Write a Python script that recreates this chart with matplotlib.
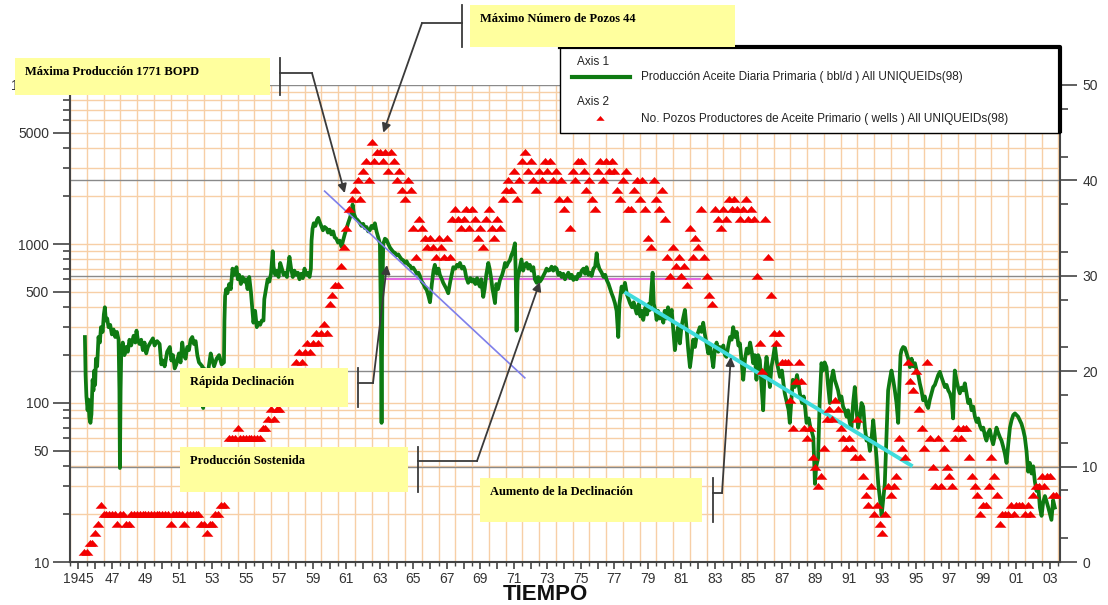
import numpy as np
import matplotlib
matplotlib.use('Agg')
import matplotlib.pyplot as plt
from matplotlib.patches import Rectangle
from matplotlib.lines import Line2D
from matplotlib.ticker import FixedLocator, NullFormatter

# ---- daily primary oil production (bbl/d), axis 1 ----
prod_year = [
    1945.39, 1945.43, 1945.48, 1945.55, 1945.60, 1945.66, 1945.72, 1945.78, 1945.85, 1945.90, 1945.95,
    1946.00, 1946.05, 1946.12, 1946.20, 1946.28, 1946.35, 1946.45, 1946.52, 1946.58, 1946.64, 1946.72, 1946.80, 1946.90,
    1947.00, 1947.10, 1947.20, 1947.30, 1947.40, 1947.45, 1947.48, 1947.52, 1947.56, 1947.65, 1947.75, 1947.85, 1947.95,
    1948.05, 1948.15, 1948.30, 1948.40, 1948.47, 1948.55, 1948.65, 1948.75, 1948.85, 1948.95,
    1949.05, 1949.15, 1949.30, 1949.45, 1949.55, 1949.70, 1949.85, 1949.95,
    1950.05, 1950.15, 1950.30, 1950.46, 1950.55, 1950.65, 1950.75, 1950.85,
    1951.00, 1951.10, 1951.20, 1951.30, 1951.40, 1951.50, 1951.60, 1951.70, 1951.80, 1951.90,
    1952.00, 1952.10, 1952.20, 1952.30, 1952.40, 1952.45, 1952.50, 1952.60, 1952.75, 1952.90,
    1953.00, 1953.10, 1953.25, 1953.40, 1953.55, 1953.69, 1953.72, 1953.76, 1953.82, 1953.90,
    1954.00, 1954.10, 1954.20, 1954.30, 1954.44, 1954.52, 1954.60, 1954.70, 1954.80, 1954.90,
    1955.00, 1955.10, 1955.20, 1955.30, 1955.40, 1955.45, 1955.55, 1955.65, 1955.75, 1955.85, 1955.95,
    1956.05, 1956.10, 1956.20, 1956.30, 1956.40, 1956.50, 1956.60, 1956.65, 1956.75, 1956.85, 1956.95,
    1957.05, 1957.15, 1957.25, 1957.35, 1957.45, 1957.60, 1957.70, 1957.80, 1957.90,
    1958.00, 1958.10, 1958.20, 1958.30, 1958.40, 1958.50, 1958.60, 1958.70, 1958.80, 1958.88, 1958.92, 1958.98,
    1959.05, 1959.15, 1959.25, 1959.32, 1959.40, 1959.50, 1959.60, 1959.70, 1959.82, 1959.90,
    1960.00, 1960.10, 1960.21, 1960.30, 1960.40, 1960.50, 1960.60, 1960.71, 1960.80, 1960.90,
    1961.01, 1961.10, 1961.20, 1961.30, 1961.37, 1961.45, 1961.55, 1961.65, 1961.75, 1961.81, 1961.90,
    1962.00, 1962.10, 1962.20, 1962.30, 1962.40, 1962.50, 1962.60, 1962.70, 1962.80, 1962.90,
    1963.00, 1963.05, 1963.10, 1963.15, 1963.20, 1963.30, 1963.40, 1963.50, 1963.60, 1963.70, 1963.80, 1963.90,
    1964.00, 1964.10, 1964.19, 1964.30, 1964.40, 1964.50, 1964.59, 1964.70, 1964.80, 1964.90, 1964.99,
    1965.10, 1965.20, 1965.30, 1965.39, 1965.50, 1965.60, 1965.70, 1965.79, 1965.90, 1965.99,
    1966.10, 1966.20, 1966.28, 1966.40, 1966.50, 1966.58, 1966.70, 1966.78, 1966.90, 1966.98,
    1967.08, 1967.20, 1967.30, 1967.38, 1967.50, 1967.60, 1967.70, 1967.78, 1967.90,
    1968.00, 1968.07, 1968.15, 1968.27, 1968.40, 1968.50, 1968.57, 1968.70, 1968.80, 1968.90, 1968.97,
    1969.05, 1969.17, 1969.25, 1969.35, 1969.47, 1969.55, 1969.65, 1969.72, 1969.77, 1969.87, 1969.95,
    1970.05, 1970.17, 1970.30, 1970.40, 1970.47, 1970.55, 1970.65, 1970.76, 1970.85, 1970.95,
    1971.06, 1971.10, 1971.16, 1971.22, 1971.36, 1971.45, 1971.55, 1971.65, 1971.76, 1971.85, 1971.95,
    1972.05, 1972.16, 1972.25, 1972.36, 1972.45, 1972.55, 1972.65, 1972.75, 1972.85, 1972.95,
    1973.05, 1973.15, 1973.25, 1973.35, 1973.45, 1973.55, 1973.65, 1973.75, 1973.85, 1973.95,
    1974.05, 1974.15, 1974.25, 1974.35, 1974.45, 1974.55, 1974.65, 1974.75, 1974.85, 1974.94,
    1975.05, 1975.15, 1975.25, 1975.34, 1975.45, 1975.55, 1975.64, 1975.75, 1975.85, 1975.94,
    1976.00, 1976.10, 1976.24, 1976.35, 1976.45, 1976.54, 1976.65, 1976.75, 1976.83, 1976.93,
    1977.03, 1977.13, 1977.23, 1977.30, 1977.43, 1977.50, 1977.63, 1977.75, 1977.85, 1977.93,
    1978.05, 1978.15, 1978.25, 1978.33, 1978.45, 1978.55, 1978.65, 1978.72, 1978.85, 1978.95,
    1979.05, 1979.12, 1979.20, 1979.28, 1979.35, 1979.45, 1979.52, 1979.60, 1979.70, 1979.80, 1979.92,
    1980.00, 1980.10, 1980.20, 1980.30, 1980.42, 1980.50, 1980.61, 1980.70, 1980.80, 1980.91,
    1981.00, 1981.10, 1981.21, 1981.30, 1981.40, 1981.51, 1981.60, 1981.70, 1981.81, 1981.90,
    1982.00, 1982.10, 1982.20, 1982.30, 1982.40, 1982.50, 1982.60, 1982.70, 1982.80, 1982.90,
    1983.00, 1983.10, 1983.20, 1983.29, 1983.40, 1983.50, 1983.60, 1983.69, 1983.80, 1983.90,
    1984.00, 1984.09, 1984.20, 1984.30, 1984.40, 1984.49, 1984.60, 1984.69, 1984.80, 1984.90, 1984.99,
    1985.10, 1985.20, 1985.28, 1985.38, 1985.48, 1985.58, 1985.68, 1985.78, 1985.88, 1985.95,
    1986.08, 1986.18, 1986.28, 1986.38, 1986.48, 1986.58, 1986.70, 1986.80, 1986.88,
    1987.00, 1987.10, 1987.17, 1987.30, 1987.40, 1987.47, 1987.55, 1987.65, 1987.77, 1987.90,
    1988.00, 1988.07, 1988.20, 1988.30, 1988.40, 1988.47, 1988.60, 1988.70, 1988.80, 1988.87, 1988.92, 1988.97,
    1989.05, 1989.16, 1989.25, 1989.36, 1989.45, 1989.55, 1989.66, 1989.75, 1989.86, 1989.95,
    1990.06, 1990.15, 1990.25, 1990.35, 1990.46, 1990.55, 1990.65, 1990.75, 1990.86, 1990.95,
    1991.05, 1991.15, 1991.25, 1991.35, 1991.45, 1991.55, 1991.65, 1991.75, 1991.85, 1991.95,
    1992.05, 1992.15, 1992.25, 1992.35, 1992.45, 1992.55, 1992.65, 1992.75, 1992.85, 1992.95,
    1993.05, 1993.14, 1993.24, 1993.34, 1993.44, 1993.54, 1993.64, 1993.74, 1993.84, 1993.94,
    1994.00, 1994.08, 1994.14, 1994.24, 1994.34, 1994.44, 1994.54, 1994.64, 1994.74, 1994.84, 1994.94,
    1995.04, 1995.14, 1995.23, 1995.33, 1995.43, 1995.53, 1995.63, 1995.73, 1995.83, 1995.93,
    1996.03, 1996.13, 1996.23, 1996.33, 1996.43, 1996.53, 1996.63, 1996.73, 1996.83, 1996.93,
    1997.03, 1997.13, 1997.22, 1997.28, 1997.32, 1997.42, 1997.52, 1997.62, 1997.72, 1997.82, 1997.92,
    1998.02, 1998.12, 1998.22, 1998.32, 1998.42, 1998.52, 1998.62, 1998.72, 1998.82, 1998.92,
    1999.02, 1999.12, 1999.21, 1999.31, 1999.41, 1999.51, 1999.61, 1999.71, 1999.81, 1999.91,
    2000.01, 2000.11, 2000.21, 2000.31, 2000.41, 2000.51, 2000.61, 2000.71, 2000.81, 2000.91,
    2001.00, 2001.10, 2001.20, 2001.30, 2001.40, 2001.50, 2001.60, 2001.70, 2001.80, 2001.90,
    2002.00, 2002.10, 2002.20, 2002.30, 2002.40, 2002.50, 2002.60, 2002.70, 2002.80, 2002.90,
    2003.00, 2003.09, 2003.19, 2003.29,
]
prod_bopd = [
    260, 150, 110, 90, 105, 80, 75, 85, 140, 120, 160,
    130, 190, 170, 260, 240, 300, 280, 360, 400, 330, 340, 300, 310,
    270, 290, 260, 280, 250, 120, 39, 120, 210, 240, 200, 225, 210,
    250, 230, 265, 240, 285, 250, 235, 250, 215, 240,
    205, 225, 240, 255, 230, 245, 235, 175,
    185, 170, 210, 225, 185, 200, 165, 175,
    205, 180, 240, 200, 190, 225, 215, 250, 260, 235,
    245, 200, 180, 175, 170, 93, 165, 150, 160, 205,
    185, 170, 190, 200, 175, 180, 330, 470, 520, 490,
    560, 520, 700, 640, 715, 600, 640, 560, 620, 580,
    600, 520, 620, 500, 370, 320, 380, 300, 320, 310, 330,
    330, 450, 520, 600, 580, 650, 900, 720, 640, 680, 620,
    760, 700, 640, 660, 620, 830, 700, 620, 680,
    640, 660, 600, 650, 610, 700, 640, 660, 620, 700, 1050, 1250,
    1350, 1300, 1420, 1460, 1380, 1300, 1220, 1280, 1250, 1180,
    1230, 1150, 1200, 1100, 1080, 1020, 1050, 960, 1050, 1150,
    1250, 1350, 1450, 1570, 1771, 1550, 1450, 1420, 1380, 1350, 1300,
    1340, 1260, 1280, 1200, 1220, 1300, 1260, 1350, 1200, 1100,
    1010, 400, 75, 500, 1000, 1080, 1060, 1000, 950, 920, 890, 880,
    850, 860, 830, 800, 790, 760, 780, 740, 730, 700, 710,
    680, 650, 660, 630, 580, 560, 530, 515, 470, 430,
    560, 680, 740, 650, 700, 640, 600, 570, 540, 520,
    490, 580, 650, 715, 700, 740, 720, 760, 700,
    720, 690, 620, 570, 610, 580, 600, 560, 610, 560, 540,
    600, 465, 520, 640, 760, 700, 600, 520, 490, 425, 560,
    520, 594, 640, 700, 760, 720, 760, 790, 850, 900,
    1010, 700, 285, 600, 715, 800, 680, 740, 760, 700, 740,
    680, 715, 600, 570, 620, 580, 600, 630, 660, 700,
    680, 686, 720, 680, 715, 700, 640, 660, 620, 650,
    600, 630, 660, 610, 640, 594, 620, 600, 650, 630,
    680, 700, 650, 715, 640, 660, 630, 700, 720, 875,
    760, 700, 660, 620, 640, 594, 560, 520, 490, 460,
    425, 380, 260, 420, 540, 500, 570, 480, 450, 425,
    400, 430, 390, 365, 420, 350, 380, 333, 400, 360,
    420, 385, 500, 660, 420, 380, 333, 380, 340, 360, 320,
    380, 340, 400, 350, 385, 300, 215, 260, 300, 237,
    300, 340, 385, 300, 220, 168, 200, 250, 225, 260,
    280, 300, 280, 320, 270, 237, 205, 230, 200, 168,
    220, 240, 210, 225, 215, 230, 200, 195, 230, 260,
    250, 300, 260, 280, 230, 237, 180, 140, 190, 220, 205,
    240, 210, 178, 200, 140, 200, 186, 130, 90, 140,
    195, 160, 126, 170, 195, 230, 180, 160, 146,
    160, 130, 115, 100, 90, 75, 100, 140, 126, 150,
    130, 115, 100, 110, 90, 75, 80, 70, 65, 61, 45, 31,
    40, 45, 100, 178, 160, 180, 168, 130, 100, 140,
    160, 140, 130, 120, 104, 110, 95, 90, 82, 90,
    75, 70, 100, 126, 90, 70, 80, 100, 95, 70,
    58, 60, 50, 60, 78, 60, 45, 31, 25, 19.6,
    25, 31, 60, 120, 140, 160, 140, 120, 100, 75,
    120, 200, 215, 225, 222, 205, 190, 168, 190, 170, 178,
    160, 150, 133, 120, 104, 110, 98, 93, 105, 115,
    126, 130, 140, 150, 157, 145, 135, 126, 130, 120,
    115, 105, 80, 130, 160, 140, 125, 115, 125, 120, 133,
    115, 100, 105, 90, 95, 82, 76, 80, 72, 68,
    70, 62, 58, 65, 68, 60, 55, 62, 70, 65,
    61, 58, 53, 48, 42, 55, 70, 78, 84, 86,
    84, 82, 78, 74, 68, 61, 50, 37, 42, 36,
    40, 32, 28, 30, 22, 19.5, 24, 26, 24, 22,
    20, 18.4, 24.5, 22,
]

# ---- producing wells, axis 2: one reading every two months from 1945 ----
nan = np.nan
wells = [
    nan, nan, 1, 1, 2, 2,        # 1945
    3, 4, 6, 5, 5, 5,            # 1946
    5, 5, 4, 5, 5, 4,            # 1947
    4, 5, 5, 5, 5, 5,            # 1948
    5, 5, 5, 5, 5, 5,            # 1949
    5, 5, 5, 4, 5, 5,            # 1950
    5, 5, 4, 5, 5, 5,            # 1951
    5, 5, 4, 4, 3, 4,            # 1952
    4, 5, 5, 6, 6, 9,            # 1953
    13, 13, 13, 14, 13, 13,      # 1954
    13, 13, 13, 13, 13, 13,      # 1955
    14, 14, 15, 16, 15, 16,      # 1956
    16, 17, 18, 19, 20, 20,      # 1957
    21, 22, 21, 22, 23, 22,      # 1958
    23, 24, 23, 24, 25, 24,      # 1959
    27, 28, 29, 29, 31, 33,      # 1960
    35, 37, 38, 39, 40, 38,      # 1961
    41, 42, 40, 44, 42, 43,      # 1962
    43, 42, 43, 41, 43, 42,      # 1963
    40, 41, 39, 38, 40, 39,      # 1964
    35, 32, 36, 35, 34, 33,      # 1965
    34, 33, 32, 34, 33, 32,      # 1966
    34, 32, 36, 37, 36, 35,      # 1967
    36, 37, 35, 37, 36, 34,      # 1968
    35, 33, 36, 37, 35, 34,      # 1969
    36, 35, 38, 39, 40, 39,      # 1970
    41, 38, 40, 42, 43, 41,      # 1971
    42, 40, 39, 41, 40, 42,      # 1972
    41, 42, 40, 41, 38, 40,      # 1973
    37, 38, 35, 41, 40, 42,      # 1974
    42, 41, 39, 40, 38, 37,      # 1975
    41, 42, 40, 42, 41, 42,      # 1976
    41, 39, 38, 40, 41, 37,      # 1977
    37, 39, 40, 38, 40, 37,      # 1978
    34, 33, 40, 38, 37, 39,      # 1979
    36, 32, 30, 33, 31, 32,      # 1980
    30, 31, 29, 35, 32, 34,      # 1981
    33, 37, 32, 30, 28, 27,      # 1982
    37, 36, 35, 37, 36, 38,      # 1983
    37, 38, 37, 36, 37, 38,      # 1984
    36, 37, 36, 30, 23, 20,      # 1985
    36, 32, 28, 24, 23, 24,      # 1986
    21, 21, 21, 17, 14, 19,      # 1987
    21, 19, 14, 13, 14, 11,      # 1988
    10, 8, 9, 12, 15, 16,        # 1989
    15, 17, 16, 14, 13, 12,      # 1990
    13, 12, 11, 15, 11, 9,       # 1991
    7, 6, 8, 5, 6, 4,            # 1992
    3, 5, 8, 7, 8, 9,            # 1993
    13, 12, 11, 21, 19, 18,      # 1994
    20, 16, 14, 12, 21, 13,      # 1995
    10, 8, 13, 8, 12, 10,        # 1996
    9, 8, 13, 14, 13, 14,        # 1997
    14, 11, 9, 8, 7, 5,          # 1998
    6, 6, 8, 11, 9, 7,           # 1999
    4, 5, 5, 5, 6, 5,            # 2000
    6, 6, 6, 5, 6, 5,            # 2001
    7, 8, 8, 9, 8, 9,            # 2002
    9, 7, 7,                     # 2003
]
wells_year = 1945 + np.arange(len(wells)) / 6.0

# trend lines drawn over the production curve (year, bbl/d)
decl1_year, decl1_bopd = [1959.7, 1971.65], [2150, 144]
plateau_year, plateau_bopd = [1963.3, 1982.1], [600, 600]
decl2_year, decl2_bopd = [1977.6, 1994.8], [499, 40]

left_ticks = [10, 50, 100, 500, 1000, 5000, 10000]
right_ticks = [0, 10, 20, 30, 40, 50]
year_ticks = list(range(1945, 2004))
year_labels = [('1945' if y == 1945 else '%02d' % (y % 100)) if y % 2 == 1 else '' for y in year_ticks]

W, H = 1108, 605


def fxy(x, y):
    # pixel position measured from the top-left corner -> figure fraction
    return x / W, 1 - y / H


# wide, flat triangle used for the well counts
tri = [(-1.0, -0.55), (1.0, -0.55), (0.0, 0.6), (-1.0, -0.55)]

fig = plt.figure(figsize=(W / 100, H / 100), dpi=100)
fig.patch.set_facecolor('white')

ax1 = fig.add_axes([70 / W, 1 - 562 / H, 990 / W, 477 / H])
ax1.set_yscale('log')
ax1.set_xlim(1944.5, 2003.6)
ax1.set_ylim(10, 10000)

orange = '#F7CFA6'
gray = '#8a8a8a'
axcol = '#444444'

# light orange grid: every year and every log step
for x in np.arange(1944.5, 2004, 1.0):
    ax1.axvline(x, color=orange, lw=1, zorder=0)
minor_vals = [m * 10 ** e for e in range(1, 4) for m in range(2, 10)]
for v in minor_vals + [100, 1000]:
    ax1.axhline(v, color=orange, lw=1, zorder=0)
# gray lines at the well-count majors
for w in right_ticks[1:]:
    ax1.plot([0, 1], [w / 50, w / 50], transform=ax1.transAxes, color=gray, lw=1, zorder=1)

ax1.plot(prod_year, prod_bopd, color='#0E7A12', lw=2.7, zorder=3, solid_joinstyle='round')
ax1.plot(decl1_year, decl1_bopd, color='#7F7FEA', lw=1.2, zorder=4)
ax1.plot(plateau_year, plateau_bopd, color='#E466E4', lw=1.4, zorder=2)
ax1.plot(decl2_year, decl2_bopd, color='#3FDCDC', lw=2.8, zorder=4, solid_capstyle='butt')

ax1.yaxis.set_major_locator(FixedLocator(left_ticks))
ax1.set_yticklabels([str(t) for t in left_ticks])
ax1.yaxis.set_minor_locator(FixedLocator([v for v in minor_vals if v not in left_ticks]))
ax1.yaxis.set_minor_formatter(NullFormatter())
ax1.xaxis.set_major_locator(FixedLocator(year_ticks))
ax1.set_xticklabels(year_labels)
ax1.xaxis.set_minor_locator(FixedLocator(np.arange(1944.5, 2004, 1.0)))

ax1.tick_params(axis='y', which='major', length=12, width=1.2, color=axcol,
                labelsize=10, labelcolor='#333333', pad=3)
ax1.tick_params(axis='y', which='minor', length=5, width=1.2, color=axcol)
ax1.tick_params(axis='x', which='major', length=5, width=1.2, color=axcol,
                labelsize=10, labelcolor='#333333', pad=2)
ax1.tick_params(axis='x', which='minor', length=3, width=1, color=axcol)
for lab in ax1.get_xticklabels() + ax1.get_yticklabels():
    lab.set_family('Liberation Sans')
for s in ['top', 'right']:
    ax1.spines[s].set_visible(False)
for s in ['left', 'bottom']:
    ax1.spines[s].set_color(axcol)
    ax1.spines[s].set_linewidth(1.5)

ax2 = ax1.twinx()
ax2.set_ylim(0, 50)
ax2.plot(wells_year, wells, linestyle='none', marker=tri, markersize=8.5,
         color='#F20000', markeredgewidth=0, zorder=3)
ax2.yaxis.set_major_locator(FixedLocator(right_ticks))
ax2.yaxis.set_minor_locator(FixedLocator(np.arange(2.5, 50, 5)))
ax2.tick_params(axis='y', which='major', length=12, width=1.2, color=axcol,
                labelsize=10, labelcolor='#333333', pad=4)
ax2.tick_params(axis='y', which='minor', length=6, width=1.2, color=axcol)
for lab in ax2.get_yticklabels():
    lab.set_family('Liberation Sans')
for s in ['top', 'left', 'bottom']:
    ax2.spines[s].set_visible(False)
ax2.spines['right'].set_color(axcol)
ax2.spines['right'].set_linewidth(1.5)

fig.text(*fxy(545, 584), 'TIEMPO', ha='center', va='top', fontsize=16,
         fontweight='bold', family='Liberation Sans', color='#111111')

# ---- legend ----
lx0, ly0, lx1, ly1 = 560, 47, 1060, 133
fig.add_artist(Rectangle(fxy(lx0, ly1), (lx1 - lx0) / W, (ly1 - ly0) / H,
                         transform=fig.transFigure, facecolor='white',
                         edgecolor='black', lw=1, zorder=3))
fig.add_artist(Line2D([lx0 / W, lx1 / W, lx1 / W], [1 - ly0 / H, 1 - ly0 / H, 1 - (ly1 - 2) / H],
                      transform=fig.transFigure, color='black', lw=3, zorder=3.1))
leg_font = dict(family='Liberation Sans', fontsize=8.5, color='#222222', va='center', zorder=3.2)
fig.text(*fxy(577, 62), 'Axis 1', **leg_font)
fig.add_artist(Line2D([572 / W, 630 / W], [1 - 77 / H] * 2, transform=fig.transFigure,
                      color='#0E7A12', lw=3, zorder=3.2))
fig.text(*fxy(641, 77), 'Producción Aceite Diaria Primaria ( bbl/d ) All UNIQUEIDs(98)', **leg_font)
fig.text(*fxy(577, 102), 'Axis 2', **leg_font)
fig.add_artist(Line2D([600 / W], [1 - 118 / H], transform=fig.transFigure, marker=tri,
                      markersize=6, color='#F20000', markeredgewidth=0, linestyle='none', zorder=3.2))
fig.text(*fxy(641, 119), 'No. Pozos Productores de Aceite Primario ( wells ) All UNIQUEIDs(98)', **leg_font)

# ---- call-out boxes: text, box (x0, y0, x1, y1), bracket x, elbow, target ----
callouts = [
    ('Máxima Producción 1771 BOPD', (15, 58, 270, 95), 280, (312, 73), ax1, (1960.9, 2090)),
    ('Máximo Número de Pozos 44', (470, 5, 735, 47), 462, (422, 23), ax2, (1963.2, 45)),
    ('Rápida Declinación', (180, 368, 348, 407), 358, (373, 383), ax1, (1963.42, 738)),
    ('Producción Sostenida', (180, 447, 408, 492), 418, (477, 461), ax1, (1972.55, 577)),
    ('Aumento de la Declinación', (480, 478, 702, 522), 713, (722, 493), ax1, (1983.95, 195)),
]
line_col = '#3a3a3a'
for text, (x0, y0, x1, y1), bx, (ex, ey), ax, target in callouts:
    fig.add_artist(Rectangle(fxy(x0, y1), (x1 - x0) / W, (y1 - y0) / H,
                             transform=fig.transFigure, facecolor='#FFFF9E',
                             edgecolor='none', zorder=5))
    fig.text(*fxy(x0 + 10, y0 + 14), text, ha='left', va='center', fontsize=9,
             fontweight='bold', family='Liberation Serif', color='black', zorder=6)
    fig.add_artist(Line2D([bx / W] * 2, [1 - y0 / H, 1 - y1 / H], transform=fig.transFigure,
                          color=line_col, lw=1.3, zorder=5))
    fig.add_artist(Line2D([bx / W, ex / W], [1 - ey / H] * 2, transform=fig.transFigure,
                          color=line_col, lw=1.3, zorder=5))
    ax.annotate('', xy=target, xycoords='data', xytext=fxy(ex, ey), textcoords='figure fraction',
                arrowprops=dict(arrowstyle='-|>', color=line_col, lw=1.3,
                                mutation_scale=13, shrinkA=0, shrinkB=0), zorder=5)

fig.savefig('out.png', dpi=100)
